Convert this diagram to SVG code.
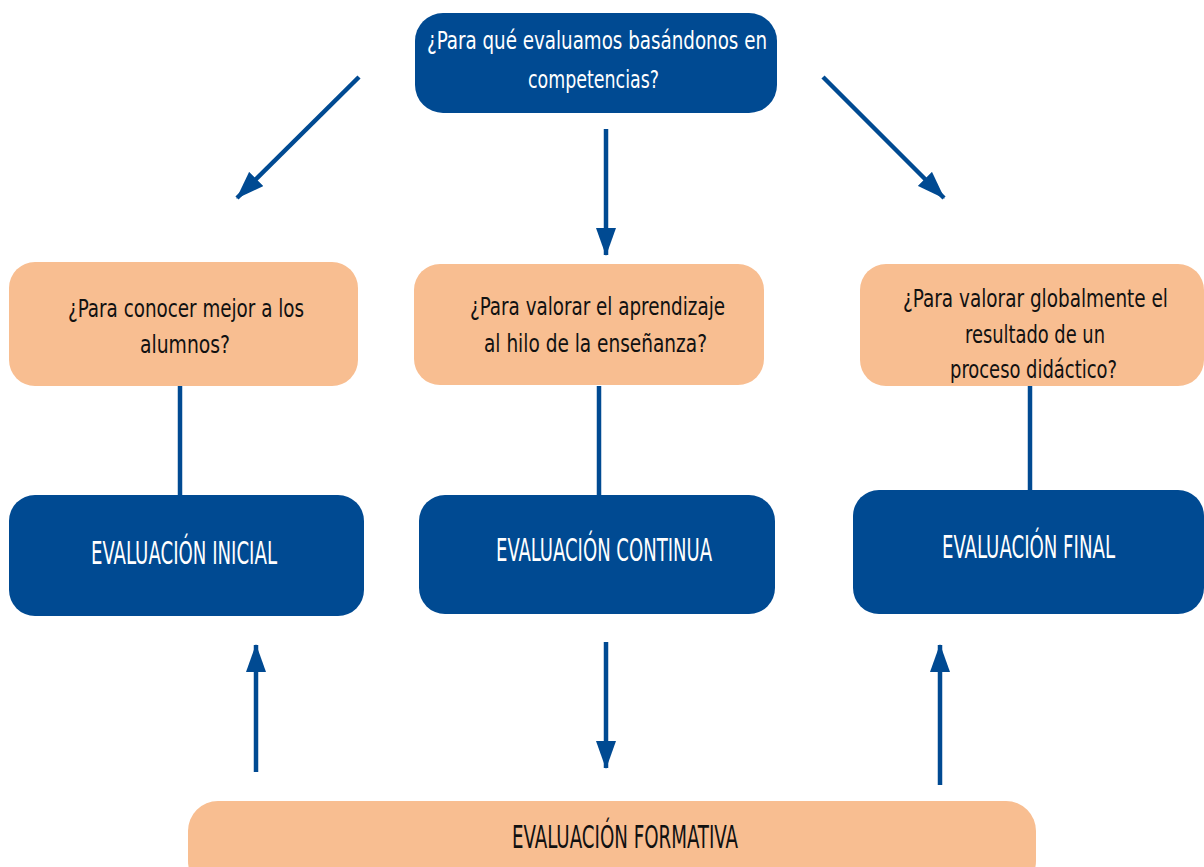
<svg xmlns="http://www.w3.org/2000/svg" width="1204" height="867" viewBox="0 0 1204 867">
<style>
.blue{fill:#004a92}
.orange{fill:#f8be91}
.t{font-family:"DejaVu Sans Condensed","DejaVu Sans","Liberation Sans",sans-serif;font-stretch:condensed;text-anchor:middle}
.w{fill:#ffffff}
.k{fill:#111111}
.q{font-size:24px}
.lab{font-size:32px}
.conn{stroke:#004a92;stroke-width:4.5;fill:none}
</style>
<defs>
<marker id="ah" viewBox="0 0 28 20" refX="27" refY="10" markerWidth="28" markerHeight="20" markerUnits="userSpaceOnUse" orient="auto">
<path d="M0,0 L28,10 L0,20 Z" fill="#004a92"/>
</marker>
</defs>
<rect width="1204" height="867" fill="#ffffff"/>
<g id="connectors">
<line class="conn" x1="359" y1="77" x2="237" y2="198" marker-end="url(#ah)"/>
<line class="conn" x1="606" y1="129" x2="606" y2="255" marker-end="url(#ah)"/>
<line class="conn" x1="823" y1="77" x2="944" y2="198" marker-end="url(#ah)"/>
<line class="conn" x1="180" y1="386" x2="180" y2="495"/>
<line class="conn" x1="599" y1="386" x2="599" y2="495"/>
<line class="conn" x1="1030" y1="386" x2="1030" y2="490"/>
<line class="conn" x1="256" y1="772" x2="256" y2="645" marker-end="url(#ah)"/>
<line class="conn" x1="606" y1="642" x2="606" y2="768" marker-end="url(#ah)"/>
<line class="conn" x1="940" y1="785" x2="940" y2="645" marker-end="url(#ah)"/>
</g>
<g id="top">
<rect class="blue" x="415" y="13" width="362" height="100" rx="28"/>
<text class="t w q" x="597" y="49" textLength="340" lengthAdjust="spacingAndGlyphs">¿Para qué evaluamos basándonos en</text>
<text class="t w q" x="593.5" y="88" textLength="131" lengthAdjust="spacingAndGlyphs">competencias?</text>
</g>
<g id="q1">
<rect class="orange" x="9" y="262" width="349" height="124" rx="26"/>
<text class="t k q" x="186" y="317" textLength="236" lengthAdjust="spacingAndGlyphs">¿Para conocer mejor a los</text>
<text class="t k q" x="185" y="353" textLength="90" lengthAdjust="spacingAndGlyphs">alumnos?</text>
</g>
<g id="q2">
<rect class="orange" x="414" y="264" width="350" height="121" rx="26"/>
<text class="t k q" x="597.5" y="315" textLength="255" lengthAdjust="spacingAndGlyphs">¿Para valorar el aprendizaje</text>
<text class="t k q" x="595.5" y="352" textLength="223" lengthAdjust="spacingAndGlyphs">al hilo de la enseñanza?</text>
</g>
<g id="q3">
<rect class="orange" x="860" y="264" width="344" height="122" rx="26"/>
<text class="t k q" x="1035.5" y="307" textLength="265" lengthAdjust="spacingAndGlyphs">¿Para valorar globalmente el</text>
<text class="t k q" x="1035" y="343" textLength="140" lengthAdjust="spacingAndGlyphs">resultado de un</text>
<text class="t k q" x="1033.5" y="378" textLength="167" lengthAdjust="spacingAndGlyphs">proceso didáctico?</text>
</g>
<g id="inicial">
<rect class="blue" x="9" y="495" width="355" height="121" rx="26"/>
<text class="t w lab" x="184" y="564" textLength="186" lengthAdjust="spacingAndGlyphs">EVALUACIÓN INICIAL</text>
</g>
<g id="continua">
<rect class="blue" x="419" y="495" width="356" height="119" rx="26"/>
<text class="t w lab" x="604" y="561" textLength="216" lengthAdjust="spacingAndGlyphs">EVALUACIÓN CONTINUA</text>
</g>
<g id="final">
<rect class="blue" x="853" y="490" width="351" height="124" rx="26"/>
<text class="t w lab" x="1028.5" y="558" textLength="173" lengthAdjust="spacingAndGlyphs">EVALUACIÓN FINAL</text>
</g>
<g id="formativa">
<rect class="orange" x="188" y="801" width="848" height="90" rx="30"/>
<text class="t k lab" x="625" y="848" textLength="226" lengthAdjust="spacingAndGlyphs">EVALUACIÓN FORMATIVA</text>
</g>
</svg>
